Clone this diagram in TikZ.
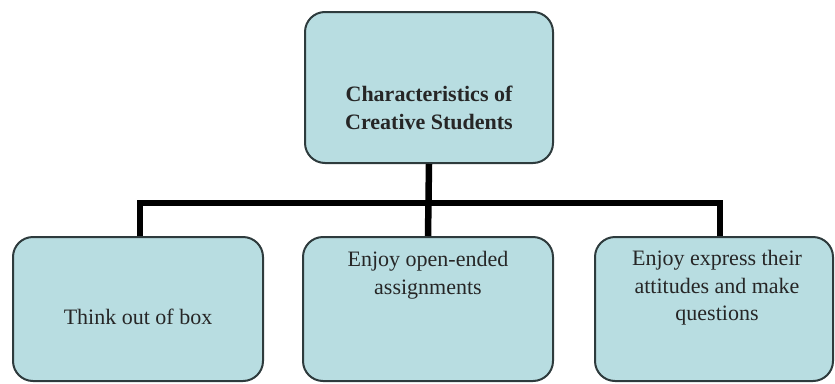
\documentclass[tikz,border=0pt]{standalone}
\usepackage{fontspec}
\setmainfont{Liberation Serif}
\usetikzlibrary{positioning}

\definecolor{boxfill}{HTML}{B8DDE1}
\definecolor{boxline}{HTML}{2E3B3D}

\tikzset{
  box/.style={draw=boxline, fill=boxfill, line width=2pt, rounded corners=20pt, inner sep=0pt},
  txt/.style={align=center, text=black!85, font=\fontsize{22}{27.5}\selectfont, inner sep=0pt},
  conn/.style={line width=6.5pt, black}
}

\begin{document}
\begin{tikzpicture}[x=1pt, y=-1pt]
        \useasboundingbox (0,0) rectangle (835,383);

        % Draw the boxes
        \node[box, minimum width=248pt, minimum height=151pt] (top) at (429,87.5) {};
        \node[box, minimum width=250pt, minimum height=144pt] (left) at (138,309) {};
        \node[box, minimum width=250pt, minimum height=144pt] (mid) at (428,309) {};
        \node[box, minimum width=238pt, minimum height=144pt] (right) at (714,309) {};

        % Connector bus
        \coordinate (busL) at (140,203);
        \coordinate (busR) at (720,203);
        \draw[conn] (left.north -| busL) -- (busL) -- (busR) -- (right.north -| busR);
        \draw[conn] (top.south) -- (mid.north);

        % Texts
        \node[txt, font=\fontsize{22}{27.5}\selectfont\bfseries] (toptxt) at (429,108) {Characteristics of\\Creative Students};
        \node[txt] (lefttxt) at (138,317) {Think out of box};
        \node[txt] (midtxt) at (428,275) {Enjoy open-ended\\assignments};
        \node[txt] (righttxt) at (717,288) {Enjoy express their\\attitudes and make\\questions};
\end{tikzpicture}
\end{document}
